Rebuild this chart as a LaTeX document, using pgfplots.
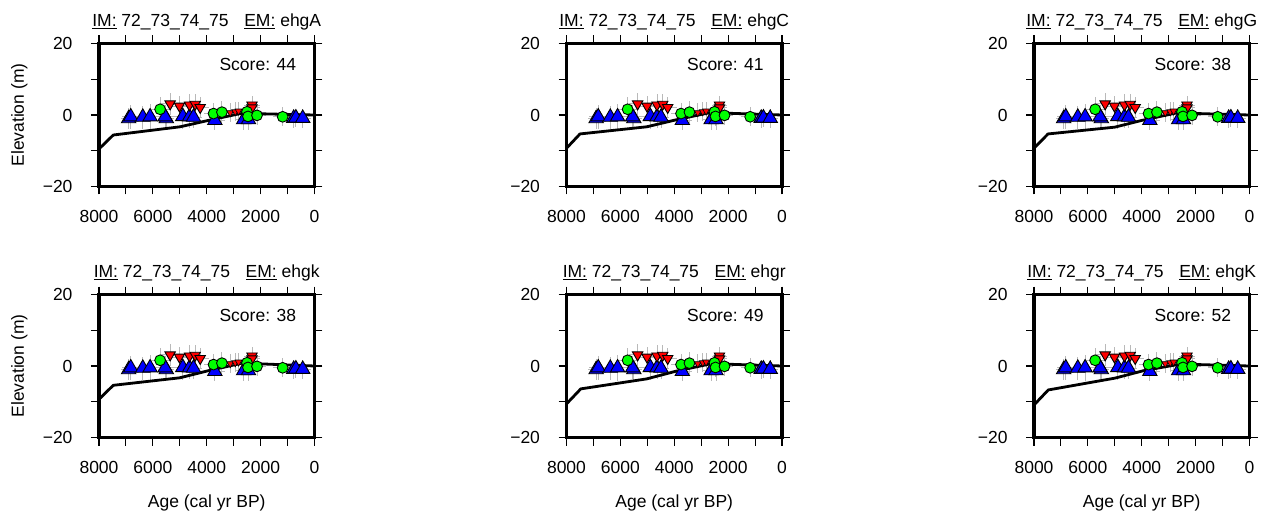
\documentclass[border=0pt]{standalone}
\usepackage{pgfplots}
\pgfplotsset{compat=1.18}
\usepackage{pgfplotstable}
\usepackage{fontspec}
\setmainfont{Liberation Sans}

\definecolor{gmtblue}{RGB}{0,0,255}
\definecolor{gmtred}{RGB}{255,0,0}
\definecolor{gmtgreen}{RGB}{0,255,0}
\definecolor{barg}{RGB}{185,185,185}

% all points with errors (x y ex ey)
\pgfplotstableread{
x y ex ey
6821 -0.5 330 3.4
6900 -1.0 300 3.0
6374 -0.6 300 3.2
6103 -0.5 330 3.6
5545 -0.5 350 3.2
5500 -1.0 300 2.8
4887 -0.4 330 3.5
4640 -0.5 310 3.2
4492 -0.6 300 3.0
3700 -1.5 360 2.7
2630 -1.3 320 2.8
2450 -1.3 330 2.8
772 -0.9 300 2.6
690 -0.8 310 2.6
437 -0.9 290 2.6
5359 3.1 330 3.0
5013 2.5 310 2.8
4640 2.8 330 3.2
4429 3.0 310 2.9
4243 2.1 330 2.8
3127 0.65 300 2.6
2941 0.9 310 2.6
2818 1.1 300 2.6
2320 2.8 290 2.6
2320 2.0 290 2.6
5731 1.6 350 3.4
3748 0.4 360 3.0
3436 0.8 330 3.0
2506 0.9 330 2.8
2468 -0.4 310 2.8
2134 -0.1 330 2.8
1181 -0.5 350 2.6
}\allpts

\pgfplotstableread{
x y
6900 -1.0
5500 -1.0
3700 -1.5
2630 -1.3
2450 -1.3
6821 -0.5
6374 -0.6
6103 -0.5
5545 -0.5
4887 -0.4
4640 -0.5
4492 -0.6
772 -0.9
690 -0.8
437 -0.9
}\bluetri

\pgfplotstableread{
x y
5359 3.1
5013 2.5
4640 2.8
4429 3.0
4243 2.1
2320 2.8
2320 2.0
}\redbig

\pgfplotstableread{
x y
3127 0.65
2941 0.9
2818 1.1
}\redsmall

\pgfplotstableread{
x y
5731 1.6
3748 0.4
3436 0.8
2506 0.9
2468 -0.4
2134 -0.1
1181 -0.5
}\greencirc

\pgfplotsset{
  panel/.style={
    scale only axis, width=215.5bp, height=143bp,
    anchor=south west,
    xmin=0, xmax=8000, ymin=-20, ymax=20,
    x dir=reverse,
    clip=false,
    axis line style={line width=3.5bp},
    tick align=outside,
    tick pos=both,
    xticklabel pos=lower, yticklabel pos=left,
    major tick length=8bp, minor tick length=8bp,
    every tick/.style={black, line width=1.1bp},
    xtick={0,2000,4000,6000,8000},
    xticklabels={0,2000,4000,6000,8000},
    minor xtick={1000,3000,5000,7000},
    ytick={-20,0,20},
    yticklabels={−20,0,20},
    minor ytick={-10,10},
    xticklabel style={yshift=-12bp},
    yticklabel style={xshift=-15bp},
  }
}

\newcommand{\panel}[5]{%
\begin{axis}[panel, at={(#1)}]
\addplot[only marks, mark=none, forget plot, barg, line width=0.9bp,
  error bars/.cd, x dir=both, x explicit, y dir=both, y explicit,
  error mark=none, error bar style={barg, line width=0.9bp}]
  table[x=x, y=y, x error=ex, y error=ey]{\allpts};
\addplot[black, line width=2.8bp, line join=round] coordinates {#4};
\addplot[only marks, mark=triangle*, mark size=8.3bp,
  mark options={fill=gmtblue, draw=black, line width=0.9bp}] table{\bluetri};
\addplot[only marks, mark=triangle*, mark size=6bp,
  mark options={rotate=180, fill=gmtred, draw=black, line width=0.9bp}] table{\redbig};
\addplot[only marks, mark=triangle*, mark size=4bp,
  mark options={rotate=180, fill=gmtred, draw=black, line width=0.7bp}] table{\redsmall};
\addplot[only marks, mark=*, mark size=5.4bp,
  mark options={fill=gmtgreen, draw=black, line width=0.9bp}] table{\greencirc};
\node[anchor=base east] at (rel axis cs:0.931,0.808) {Score: #3};
\node[anchor=base] at ([yshift=17bp]rel axis cs:0.5,1) {\underline{IM:} 72\_73\_74\_75\hspace{0.9em}\underline{EM:} #2};
#5
\end{axis}}

\newcommand{\ylab}{\node[rotate=90, anchor=base] at ([xshift=-75bp]rel axis cs:0,0.5) {Elevation (m)};}
\newcommand{\xlab}{\node[anchor=base] at ([yshift=-70bp]rel axis cs:0.5,0) {Age (cal yr BP)};}

\begin{document}
\begin{tikzpicture}[font=\fontsize{17.5bp}{20bp}\selectfont]
\useasboundingbox (0,0) rectangle (1272bp,515bp);
\panel{99bp,328.5bp}{ehgA}{44}{(8000,-9.5) (7470,-5.6) (4990,-3.3) (3990,-1.6) (2700,0.5) (1760,0.3) (0,0)}{\ylab}
\panel{566.5bp,328.5bp}{ehgC}{41}{(8000,-9.3) (7500,-5.3) (5020,-3.3) (3960,-1.4) (2790,0.5) (2040,0.5) (0,0)}{}
\panel{1034bp,328.5bp}{ehgG}{38}{(8000,-9.3) (7480,-5.3) (5000,-3.4) (3990,-1.5) (2700,0.6) (1900,0.4) (0,0)}{}
\panel{99bp,77.5bp}{ehgk}{38}{(8000,-9.3) (7470,-5.4) (5000,-3.3) (3990,-1.4) (2630,0.9) (2000,0.6) (0,0)}{\ylab\xlab}
\panel{566.5bp,77.5bp}{ehgr}{49}{(8000,-10.6) (7470,-6.4) (5020,-3.6) (3960,-1.5) (2660,0.6) (2000,0.5) (0,0)}{\xlab}
\panel{1034bp,77.5bp}{ehgK}{52}{(8000,-10.9) (7470,-6.7) (5000,-3.4) (3930,-1.3) (2530,0.6) (1900,0.4) (0,0)}{\xlab}
\end{tikzpicture}
\end{document}
